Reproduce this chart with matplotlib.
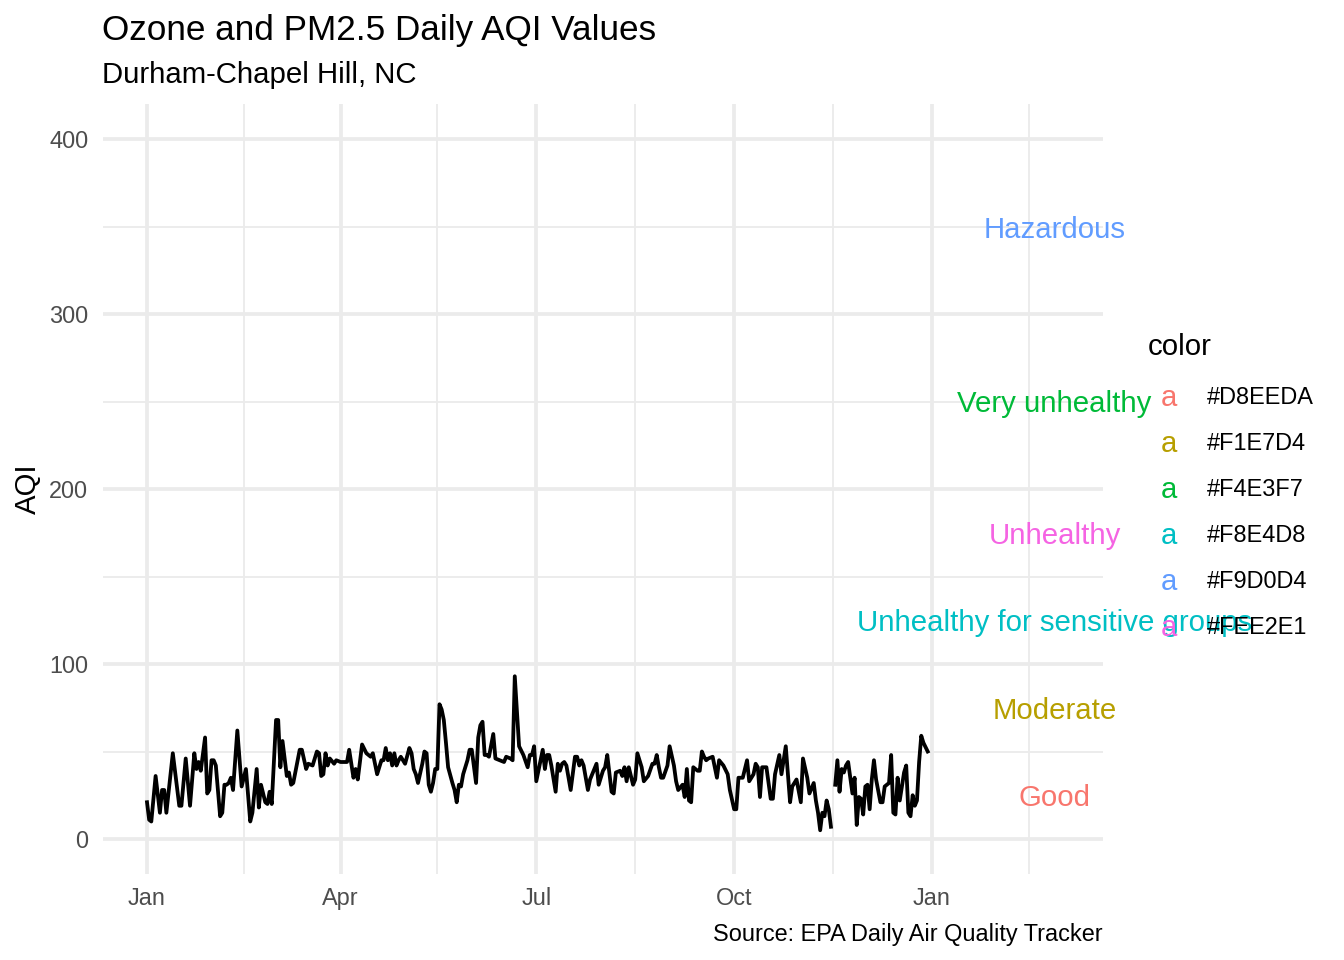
import numpy as np
import matplotlib
matplotlib.use("Agg")
import matplotlib.pyplot as plt
import matplotlib.dates as mdates
import matplotlib.transforms as mtransforms

plt.rcParams['font.family'] = ['Liberation Sans', 'DejaVu Sans']

# ---- data ----
start_date = "2022-01-01"
day = [0, 1, 2, 4, 6, 7, 8, 9, 12, 15, 16, 18, 20, 22, 23, 24, 25, 27, 28, 29, 30, 31, 32, 34, 35, 36, 37, 38, 39, 40,
       42, 44, 46, 48, 49, 51, 52, 53, 55, 56, 57, 58, 60, 61, 62, 63, 65, 66, 67, 68, 71, 72, 74, 75, 77, 79, 80, 81, 82, 83,
       84, 85, 87, 88, 90, 93, 94, 96, 97, 98, 100, 102, 104, 105, 107, 109, 110, 111, 112, 113, 114, 115, 116, 117, 118, 120, 122, 123, 124, 125,
       126, 128, 129, 130, 131, 132, 133, 134, 135, 136, 137, 138, 139, 140, 142, 143, 144, 145, 146, 147, 149, 150, 151, 153, 154, 155, 156, 157, 158, 159,
       161, 162, 164, 166, 167, 169, 170, 171, 173, 175, 177, 178, 179, 180, 181, 182, 184, 185, 186, 187, 188, 190, 191, 192, 193, 194, 195, 197, 199, 200,
       201, 202, 203, 205, 206, 208, 209, 210, 212, 213, 214, 216, 217, 218, 220, 221, 222, 223, 224, 226, 227, 228, 230, 231, 233, 235, 236, 237, 238, 239,
       240, 242, 243, 245, 246, 247, 249, 250, 251, 252, 253, 254, 256, 257, 258, 259, 260, 261, 263, 265, 266, 268, 270, 271, 273, 274, 275, 277, 279, 280,
       282, 283, 284, 285, 286, 288, 290, 291, 292, 294, 295, 297, 299, 300, 302, 304, 305, 307, 308, 310, 311, 312, 313, 314, 315, 316, 317, 318, 319, 320,
       321, 322, 323, 324, 325, 326, 328, 329, 330, 331, 332, 333, 334, 335, 336, 337, 338, 339, 341, 342, 343, 345, 346, 347, 348, 349, 350, 352, 353, 354,
       355, 356, 357, 358, 359, 360, 361, 363]
aqi = [21, 11, 10, 36, 15, 28, 28, 15, 49, 19, 19, 46, 19, 49, 40, 44, 39, 58, 26, 28, 45, 45, 42, 13, 15, 31, 31, 32, 35, 28,
       62, 30, 40, 10, 15, 40, 18, 31, 21, 20, 27, 20, 68, 68, 41, 56, 36, 38, 31, 32, 51, 51, 40, 43, 42, 50, 49, 36, 37, 49,
       42, 46, 43, 45, 44, 44, 51, 35, 40, 34, 54, 49, 47, 49, 37, 45, 45, 52, 45, 49, 42, 49, 42, 45, 47, 43, 52, 49, 40, 37,
       32, 43, 50, 49, 31, 27, 32, 40, 40, 77, 74, 68, 55, 41, 32, 28, 21, 31, 30, 37, 45, 51, 51, 32, 58, 65, 67, 48, 48, 47,
       60, 46, 45, 44, 47, 46, 45, 93, 53, 48, 41, 48, 48, 53, 33, 39, 51, 40, 48, 48, 42, 27, 43, 39, 43, 44, 42, 28, 47, 47,
       42, 45, 42, 28, 34, 40, 43, 31, 39, 41, 48, 27, 26, 38, 39, 36, 41, 33, 41, 31, 34, 49, 41, 33, 36, 43, 43, 48, 41, 35,
       35, 42, 53, 42, 33, 28, 31, 24, 40, 22, 21, 41, 39, 39, 50, 47, 45, 46, 47, 35, 45, 42, 37, 28, 17, 17, 35, 35, 45, 33,
       37, 43, 41, 24, 41, 41, 23, 23, 37, 48, 37, 53, 21, 30, 34, 21, 46, 35, 26, 32, 22, 15, 5, 15, 13, 22, 17, 7, np.nan, 31,
       45, 27, 40, 38, 42, 44, 26, 35, 8, 24, 23, 14, 30, 31, 17, 34, 45, 34, 21, 21, 30, 32, 48, 15, 14, 35, 22, 38, 42, 15,
       13, 25, 19, 22, 44, 59, 55, 50]

category_labels = ["Good", "Moderate", "Unhealthy for sensitive groups", "Unhealthy", "Very unhealthy", "Hazardous"]
category_y = [25, 75, 125, 175, 250, 350]
category_fill = ["#D8EEDA", "#F1E7D4", "#F8E4D8", "#FEE2E1", "#F4E3F7", "#F9D0D4"]
label_day = 422
hue_palette = ["#F8766D", "#B79F00", "#00BA38", "#00BFC4", "#619CFF", "#F564E3"]

x_tick_dates = ["2022-01-01", "2022-04-01", "2022-07-01", "2022-10-01", "2023-01-01"]
x_tick_labels = ["Jan", "Apr", "Jul", "Oct", "Jan"]
x_minor_dates = ["2022-02-15", "2022-05-16", "2022-08-16", "2022-11-16", "2023-02-15"]
y_ticks = [0, 100, 200, 300, 400]
y_minor = [50, 150, 250, 350]

# ---- figure ----
W, H = 1344, 960
fig = plt.figure(figsize=(7, 5), dpi=192)

def fx(px):
    return px / W

def fy(py):
    return 1 - py / H

ax = fig.add_axes([fx(103), fy(874), fx(1103) - fx(103), fy(104) - fy(874)])

base = mdates.date2num(np.datetime64(start_date))
x = base + np.array(day, dtype=float)
ax.plot(x, np.array(aqi, dtype=float), color="black", lw=1.42, zorder=3, solid_joinstyle="round")

# shift centred texts a touch downward (ggplot centres slightly lower)
down = mtransforms.offset_copy(ax.transData, fig=fig, x=0, y=-3, units="dots")
legend_hex = sorted(category_fill)
for lab, yv, fill in zip(category_labels, category_y, category_fill):
    col = hue_palette[legend_hex.index(fill)]
    ax.text(base + label_day, yv, lab, color=col, fontsize=11, ha="center", va="center",
            clip_on=False, zorder=4, transform=down)

ax.set_xlim(base - 20.46, base + 444.5)
ax.set_ylim(-20, 420)

ax.set_xticks([mdates.date2num(np.datetime64(d)) for d in x_tick_dates])
ax.set_xticklabels(x_tick_labels)
ax.set_xticks([mdates.date2num(np.datetime64(d)) for d in x_minor_dates], minor=True)
ax.set_yticks(y_ticks)
ax.set_yticklabels([str(v) for v in y_ticks])
ax.set_yticks(y_minor, minor=True)

for s in ax.spines.values():
    s.set_visible(False)
ax.grid(True, which="major", color="#EBEBEB", lw=1.42)
ax.grid(True, which="minor", color="#EBEBEB", lw=0.71)
ax.set_axisbelow(True)
ax.tick_params(which="both", length=0)
ax.tick_params(axis="x", pad=4.8, labelsize=8.8, labelcolor="#4D4D4D")
ax.tick_params(axis="y", pad=5.5, labelsize=8.8, labelcolor="#4D4D4D")

fig.text(fx(28), fy(489), "AQI", rotation=90, fontsize=11, ha="center", va="center")

# titles and caption
fig.text(fx(102), fy(40), "Ozone and PM2.5 Daily AQI Values", fontsize=13.2, ha="left", va="baseline")
fig.text(fx(102), fy(83), "Durham-Chapel Hill, NC", fontsize=11, ha="left", va="baseline")
fig.text(fx(1103), fy(935), "Source: EPA Daily Air Quality Tracker", fontsize=8.8, ha="right", va="center")

# legend
fig.text(fx(1148), fy(347), "color", fontsize=11, ha="left", va="center", zorder=5)
row_y = [398, 444, 490, 536, 582, 628]
for i, hx in enumerate(legend_hex):
    fig.text(fx(1169), fy(row_y[i]), "a", color=hue_palette[i], fontsize=11, ha="center", va="center", zorder=5)
    fig.text(fx(1207), fy(row_y[i]), hx, color="black", fontsize=8.8, ha="left", va="center", zorder=5)

fig.savefig("out.png", dpi=192)
